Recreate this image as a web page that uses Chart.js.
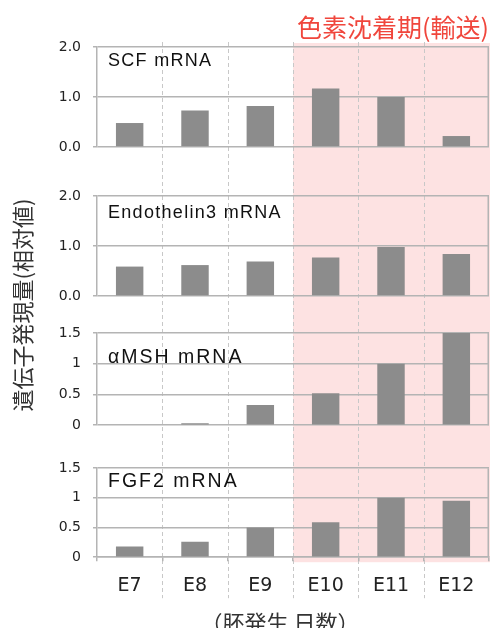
<!DOCTYPE html>
<html>
<head>
<meta charset="utf-8">
<script src="https://cdn.jsdelivr.net/npm/chart.js@4.4.1/dist/chart.umd.min.js"></script>
<style>
html,body{margin:0;padding:0;background:#fff;}
#grafica{display:block;}
</style>
</head>
<body>
<canvas id="grafica" width="490" height="628"></canvas>
<script>
// datos
var dias = ["E7", "E8", "E9", "E10", "E11", "E12"];
var scf  = [0.48, 0.73, 0.82, 1.17, 1.00, 0.22];
var edn3 = [0.59, 0.62, 0.69, 0.77, 0.98, 0.84];
var amsh = [0.00, 0.03, 0.33, 0.52, 1.00, 1.50];
var fgf2 = [0.18, 0.26, 0.50, 0.59, 1.00, 0.95];
var genes = ["SCF mRNA", "Endothelin3 mRNA", "αMSH mRNA", "FGF2 mRNA"];
var ticksA = [0, 1, 2];
var ticksB = [0, 0.5, 1, 1.5];
var periodo = "色素沈着期(輸送)";
var inicioPeriodo = "E10";
var tituloY = "遺伝子発現量(相対値)";
var tituloX = "（胚発生 日数）";

var GRIS = "#b4b4b4";

function ejePanel(ticks, peso, alto, decimales){
  return {
    type: 'linear', position: 'left', stack: 'panel', stackWeight: alto, weight: peso,
    min: ticks[0], max: ticks[ticks.length - 1],
    afterBuildTicks: function(s){ s.ticks = ticks.map(function(v){ return {value: v}; }); },
    afterFit: function(s){ s.width = 60; },
    grid: { color: GRIS, lineWidth: 1.5, tickLength: 4, tickColor: GRIS },
    border: { color: GRIS, width: 1.5 },
    ticks: {
      padding: 12, color: '#222', autoSkip: false,
      font: { family: 'DejaVu Sans', size: 14 },
      callback: function(v){ return decimales ? Number(v).toFixed(decimales) : String(v); }
    }
  };
}
function ejeHueco(peso, alto){
  return {
    type: 'linear', position: 'left', stack: 'panel', stackWeight: alto, weight: peso,
    min: 0, max: 1,
    afterFit: function(s){ s.width = 60; },
    ticks: { display: false }, grid: { display: false }, border: { display: false }
  };
}

var extras = {
  id: 'extras',
  beforeDraw: function(chart){
    var ctx = chart.ctx, xs = chart.scales.x, area = chart.chartArea;
    var mitad = (xs.getPixelForTick(1) - xs.getPixelForTick(0)) / 2;
    var xIni = xs.getPixelForTick(dias.indexOf(inicioPeriodo)) - mitad;
    ctx.save();
    ctx.fillStyle = '#fde2e2';
    ctx.fillRect(xIni, area.top - 4, chart.width - xIni, area.bottom - area.top + 9);
    ctx.strokeStyle = '#c8c8c8';
    ctx.lineWidth = 1;
    ctx.setLineDash([4, 3]);
    for (var i = 1; i < dias.length; i++) {
      var x = Math.round(xs.getPixelForTick(i) - mitad) + 0.5;
      ctx.beginPath();
      ctx.moveTo(x, area.top - 5);
      ctx.lineTo(x, area.bottom + 41);
      ctx.stroke();
    }
    ctx.restore();
  },
  afterDraw: function(chart){
    var ctx = chart.ctx, area = chart.chartArea;
    var ids = ['y1', 'y2', 'y3', 'y4'];
    var base = [19, 22, 30, 19];
    var tam = [18, 18, 19.5, 19.5];
    var esp = [1.3, 1.3, 2, 2];
    ctx.save();
    // borde derecho de cada panel
    ctx.strokeStyle = GRIS;
    ctx.lineWidth = 1.5;
    ids.forEach(function(id){
      var s = chart.scales[id];
      ctx.beginPath();
      ctx.moveTo(area.right - 0.75, s.top);
      ctx.lineTo(area.right - 0.75, s.bottom);
      ctx.stroke();
    });
    // nombre de cada gen
    ctx.fillStyle = '#111';
    ctx.textAlign = 'left';
    ctx.textBaseline = 'alphabetic';
    ids.forEach(function(id, i){
      var s = chart.scales[id];
      ctx.font = tam[i] + 'px "Liberation Sans", Arial, sans-serif';
      ctx.letterSpacing = esp[i] + 'px';
      ctx.fillText(genes[i], area.left + 11, s.top + base[i]);
    });
    ctx.letterSpacing = '0px';
    // título eje y
    ctx.fillStyle = '#333';
    ctx.font = '22px "Noto Sans CJK JP"';
    ctx.textAlign = 'center';
    ctx.textBaseline = 'middle';
    ctx.save();
    ctx.translate(23, (area.top + area.bottom) / 2 + 3);
    ctx.rotate(-Math.PI / 2);
    ctx.fillText(tituloY, 0, 0);
    ctx.restore();
    // título eje x
    ctx.font = '22px "Noto Sans CJK JP"';
    ctx.fillText(tituloX, (area.left + area.right) / 2 - 13, area.bottom + 65);
    ctx.restore();
  }
};

function barras(datos, eje, nombre){
  return {
    label: nombre, data: datos, yAxisID: eje,
    backgroundColor: '#8c8c8c', borderWidth: 0,
    grouped: false, barPercentage: 0.42, categoryPercentage: 1
  };
}

var grafica = new Chart(document.getElementById('grafica'), {
  type: 'bar',
  data: {
    labels: dias,
    datasets: [
      barras(scf, 'y1', genes[0]),
      barras(edn3, 'y2', genes[1]),
      barras(amsh, 'y3', genes[2]),
      barras(fgf2, 'y4', genes[3])
    ]
  },
  options: {
    responsive: false,
    animation: false,
    layout: { padding: { left: 37, right: 1, top: 0, bottom: 18 } },
    scales: {
      x: {
        type: 'category', offset: true,
        grid: { drawOnChartArea: false, tickLength: 4, color: GRIS, lineWidth: 1.5 },
        border: { color: GRIS, width: 1.5 },
        ticks: { padding: 13, color: '#222', font: { family: 'DejaVu Sans', size: 19 } }
      },
      y1: ejePanel(ticksA, 7, 100, 1),
      g1: ejeHueco(6, 49),
      y2: ejePanel(ticksA, 5, 100, 1),
      g2: ejeHueco(4, 37),
      y3: ejePanel(ticksB, 3, 92, 0),
      g3: ejeHueco(2, 43),
      y4: ejePanel(ticksB, 1, 89, 0)
    },
    plugins: {
      legend: { display: false },
      tooltip: { enabled: false },
      title: {
        display: true, text: periodo, align: 'end', color: '#f0463c',
        font: { family: 'Noto Sans CJK JP', size: 25, weight: 'normal' },
        padding: { top: 12, bottom: 5 }
      }
    }
  },
  plugins: [extras]
});
</script>
</body>
</html>
